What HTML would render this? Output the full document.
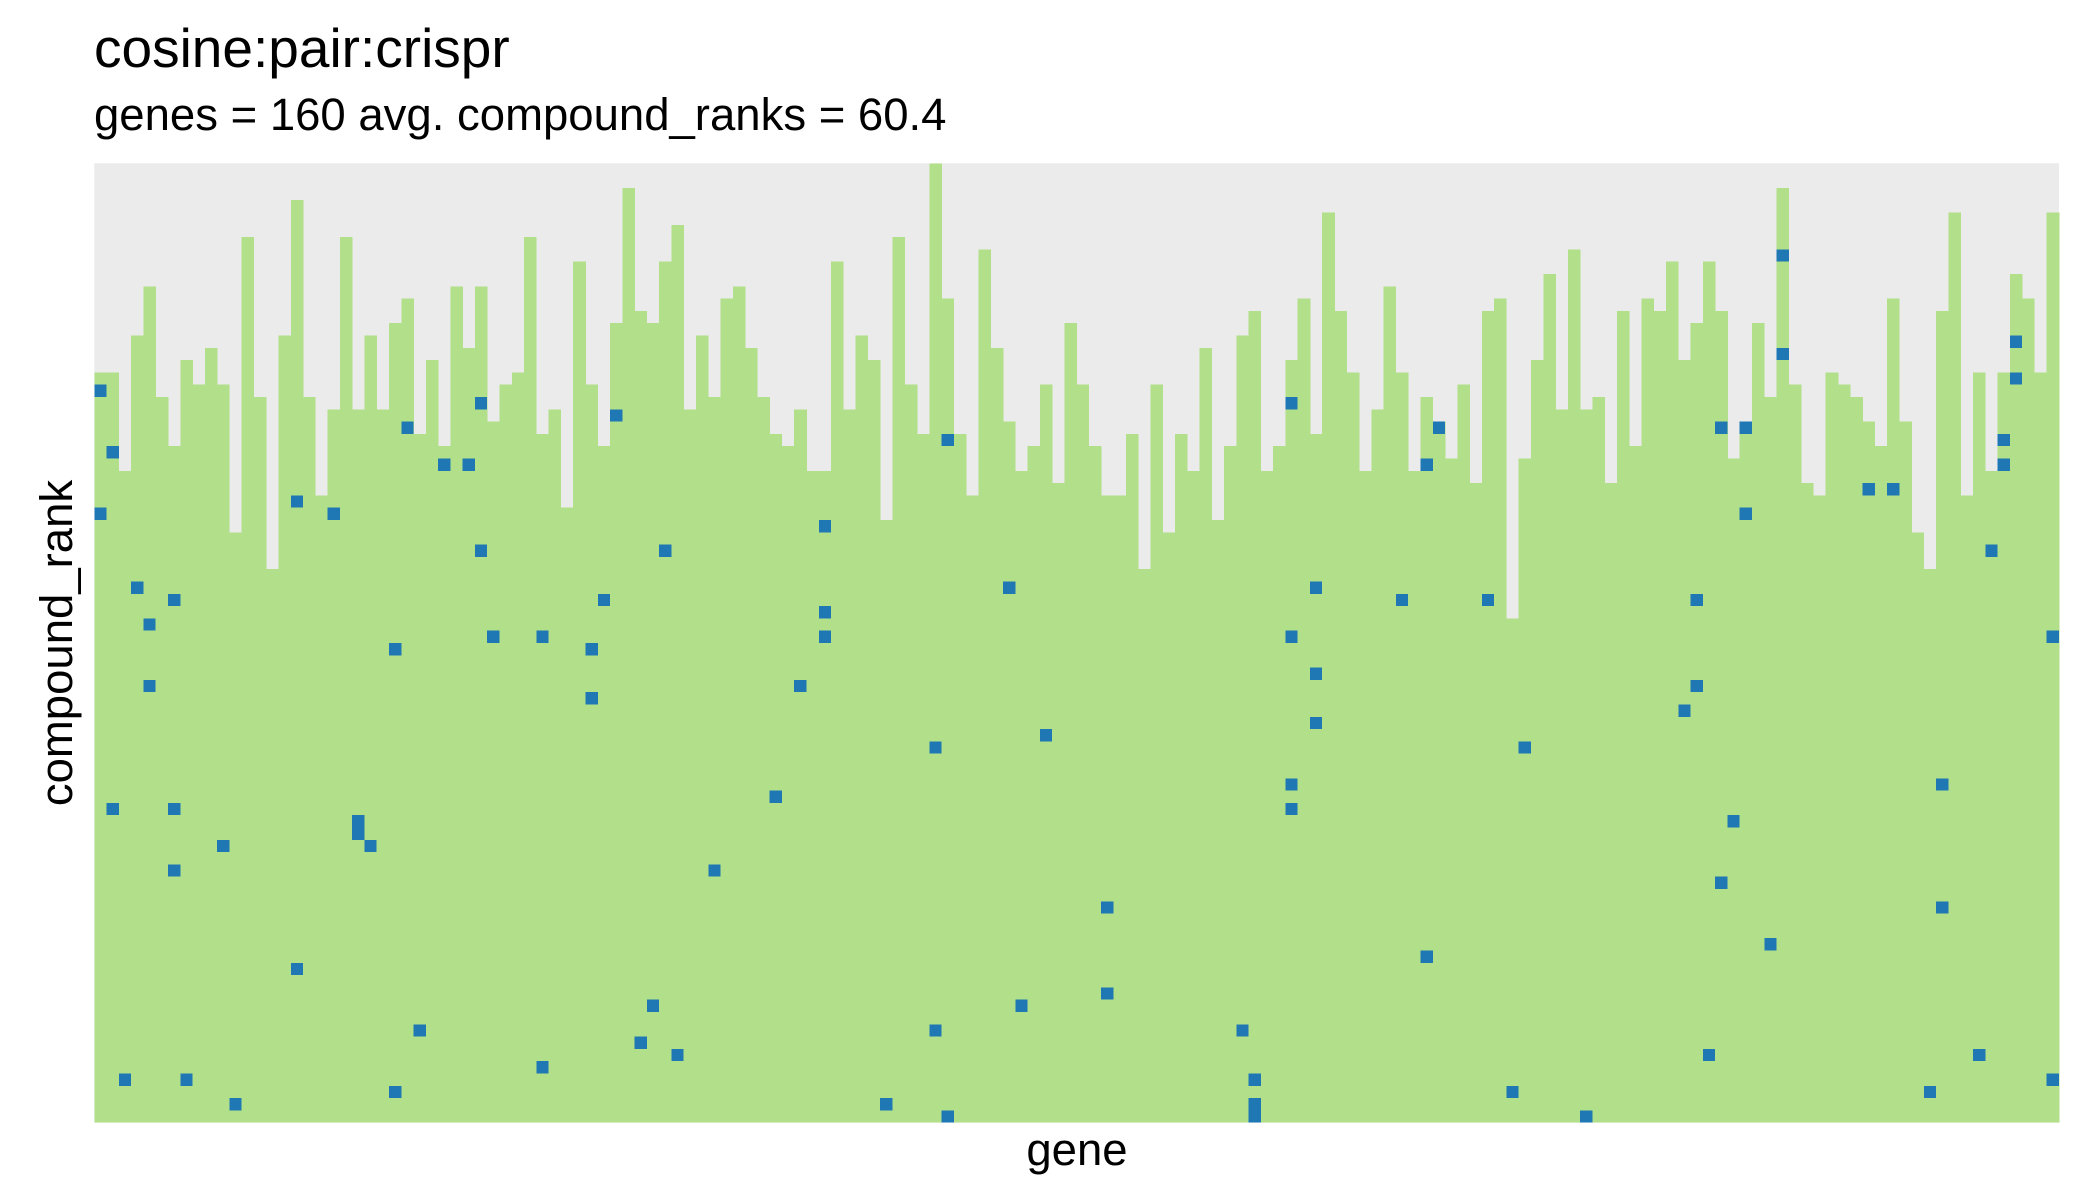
<!DOCTYPE html>
<html>
<head>
<meta charset="utf-8">
<style>
  html, body { margin: 0; padding: 0; background: #ffffff; }
  body { width: 2099px; height: 1200px; overflow: hidden; }
  svg { display: block; font-family: "Liberation Sans", Arial, sans-serif; }
</style>
</head>
<body>
<svg id="chart" width="2099" height="1200" viewBox="0 0 2099 1200" xmlns="http://www.w3.org/2000/svg">
  <rect x="0" y="0" width="2099" height="1200" fill="#ffffff"/>
  <text x="94" y="67" font-size="55" fill="#000">cosine:pair:crispr</text>
  <text x="94" y="130" font-size="45.5" fill="#000">genes = 160 avg. compound_ranks = 60.4</text>
  <rect id="panel" x="94.3" y="163.3" width="1964.7" height="959.4" fill="#ebebeb"/>
  <g id="bars" shape-rendering="crispEdges"></g>
  <g id="hits" shape-rendering="crispEdges"></g>
  <text x="1077" y="1165" font-size="45.5" text-anchor="middle" fill="#000">gene</text>
  <text transform="translate(72,643) rotate(-90)" font-size="45.5" text-anchor="middle" fill="#000">compound_rank</text>
</svg>
<script>
// Number of compounds ranked per gene (bar height), one value per gene column
const barHeights = [
  61,61,53,64,68,59,55,62,60,63,60,48,72,59,45,64,75,59,51,58,72,58,64,58,65,67,56,62,55,68,63,68,57,60,61,72,56,58,50,70,
  60,55,65,76,66,65,70,73,58,64,59,67,68,63,59,56,55,58,53,53,70,58,64,62,49,72,60,56,78,67,56,51,71,63,57,53,55,60,52,65,
  60,55,51,51,56,45,60,48,56,53,63,49,55,64,66,53,55,62,67,56,74,66,61,53,58,68,61,53,59,57,54,60,52,66,67,41,54,62,69,58,
  71,58,59,52,66,55,67,66,70,62,65,70,66,54,57,65,59,76,60,52,51,61,60,59,57,55,67,57,48,45,66,74,51,61,53,61,69,67,61,74
];
// Highlighted cells: gene column index
const hitGenes = [0,0,1,3,4,6,16,19,25,28,30,31,31,32,36,42,46,41,59,59,59,69,74,97,97,109,108,99,106,113,
  132,134,134,137,137,130,144,146,155,155,156,156,154,159,
  1,6,10,6,21,21,22,16,2,7,11,24,26,36,44,45,47,50,55,64,68,69,68,75,77,82,82,93,94,94,94,97,97,99,99,108,115,116,121,129,130,131,132,133,136,149,150,150,153,159,4,24,40,40,57];
// Highlighted cells: compound rank (1 = bottom row)
const hitRanks = [60,50,55,44,41,43,51,50,57,54,54,59,47,40,40,58,47,43,49,42,40,56,44,59,40,57,54,44,43,43,
  57,57,50,71,63,43,52,52,56,54,64,61,47,40,
  26,26,23,21,25,24,23,13,4,4,2,3,8,5,7,10,6,21,27,2,8,1,31,10,32,18,11,8,4,2,1,28,26,37,33,14,3,31,1,34,36,6,20,25,15,3,28,18,6,4,36,39,39,35,36];

const nGenes = 160, nRanks = 78;
const X0 = 94.3, X1 = 2059, Y0 = 163.3, Y1 = 1122.7;
const cw = (X1 - X0) / nGenes, rh = (Y1 - Y0) / nRanks;
const xScale = i => X0 + i * cw;
const yScale = r => Y1 - r * rh;
const NS = 'http://www.w3.org/2000/svg';

const barsG = document.getElementById('bars');
barHeights.forEach((h, i) => {
  const r = document.createElementNS(NS, 'rect');
  r.setAttribute('x', xScale(i));
  r.setAttribute('y', yScale(h));
  r.setAttribute('width', cw + 0.3);
  r.setAttribute('height', Y1 - yScale(h));
  r.setAttribute('fill', '#b2df8a');
  
  
  barsG.appendChild(r);
});

const hitsG = document.getElementById('hits');
hitGenes.forEach((g, k) => {
  const rank = hitRanks[k];
  const r = document.createElementNS(NS, 'rect');
  r.setAttribute('x', xScale(g));
  r.setAttribute('y', yScale(rank));
  r.setAttribute('width', cw);
  r.setAttribute('height', rh);
  r.setAttribute('fill', '#1f78b4');
  
  
  hitsG.appendChild(r);
});
</script>
</body>
</html>
